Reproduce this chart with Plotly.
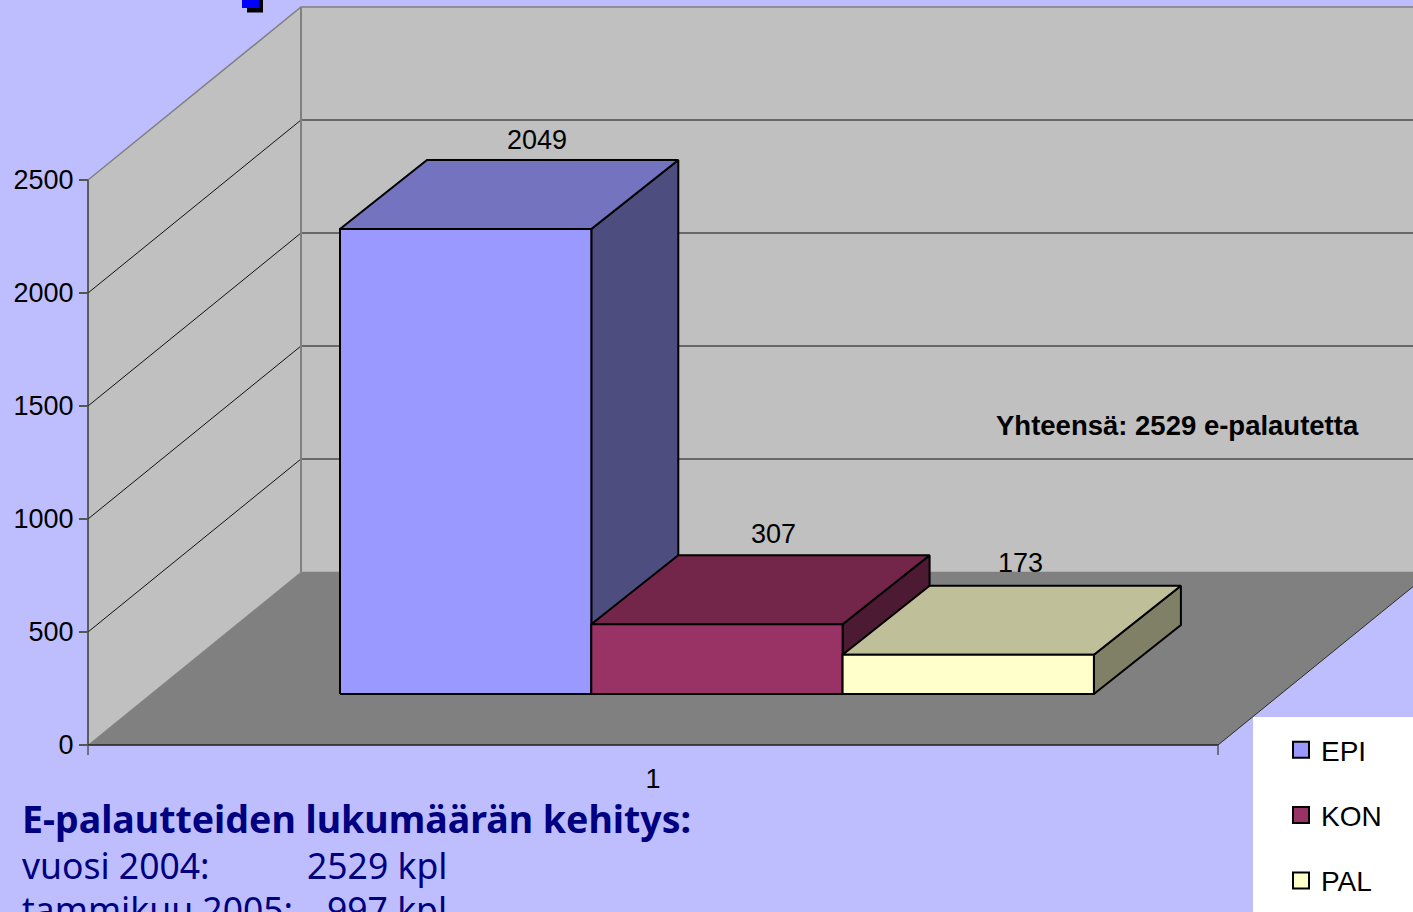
import plotly.graph_objects as go

# Data
series = ["EPI", "KON", "PAL"]
values = [2049, 307, 173]
category = "1"
y_ticks = [0, 500, 1000, 1500, 2000, 2500]
front_colors = ["#9999FF", "#993366", "#FFFFCC"]
top_colors = ["#7373BF", "#732649", "#BFBF99"]
side_colors = ["#4D4D80", "#4D1A33", "#808066"]
label_x = [537, 773, 1020]
label_shift = [20, 21, 23]

# Oblique projection, in the axes' own units (x axis = screen px, y axis = chart value)
W, H = 1413, 912
PX = 0.226                # px per value unit
BAR_GAIN = 1.004
Y0 = 745                  # px of value 0 on the front plane
X0, X1 = 88, 1218
DX, DY = 213, 173         # wall depth
BX, BDX, BDY = 340, 87, 69
BW = 251.3
BASE = (Y0 - 694) / PX    # bar base height above front edge
y_min, y_max = (Y0 - H) / PX, Y0 / PX
u = lambda px: px / PX

BG = "#BEBEFF"
WALL = "#C0C0C0"
FLOOR = "#808080"
GRID = "#111111"
SANS = "Liberation Sans, Arial, sans-serif"
TITLE = "Noto Sans, sans-serif"

fig = go.Figure()


def poly(xs, ys, fill, line=None, width=0, name=None):
    fig.add_trace(go.Scatter(
        x=list(xs) + [xs[0]], y=list(ys) + [ys[0]], mode="lines", fill="toself",
        fillcolor=fill, line=dict(color=line or fill, width=width or 0.5),
        hoverinfo="skip", showlegend=False, name=name))


def seg(xs, ys, color, width):
    fig.add_trace(go.Scatter(x=xs, y=ys, mode="lines", line=dict(color=color, width=width),
                             hoverinfo="skip", showlegend=False))


top = y_ticks[-1]
# walls and floor
poly([X0 + DX, W + 40, W + 40, X0 + DX], [u(DY), u(DY), top + u(DY), top + u(DY)], WALL)
poly([X0, X0 + DX, X0 + DX, X0], [0, u(DY), top + u(DY), top], WALL)
poly([X0, X1, X1 + DX, X0 + DX], [0, 0, u(DY), u(DY)], FLOOR)

# gridlines
for t in y_ticks[1:-1]:
    seg([X0, X0 + DX], [t, t + u(DY)], GRID, 1)
    seg([X0 + DX, W + 40], [t + u(DY), t + u(DY)], GRID, 1)
seg([X0, X0 + DX, W + 40], [top, top + u(DY), top + u(DY)], "#808080", 1.5)
seg([X0 + DX, X0 + DX], [u(DY), top + u(DY)], "#808080", 2)
seg([X0, X0], [0, top], "#3A3A3A", 1.5)
seg([X0, X1], [0, 0], "#222222", 1.5)
seg([X1, X1 + DX], [0, u(DY)], "#2E2E2E", 1)
for tx in (X0, X1):
    seg([tx, tx], [0, u(-10)], "#555555", 1.5)

# bars
for i, v in enumerate(values):
    x0, x1 = BX + i * BW, BX + (i + 1) * BW
    b, t = BASE, BASE + v * BAR_GAIN
    dx, dy = BDX, u(BDY)
    poly([x1, x1 + dx, x1 + dx, x1], [b, b + dy, t + dy, t], side_colors[i], "black", 2)
    poly([x0, x1, x1 + dx, x0 + dx], [t, t, t + dy, t + dy], top_colors[i], "black", 2)
    poly([x0, x1, x1, x0], [b, b, t, t], front_colors[i], "black", 2, name=series[i])
    fig.add_annotation(x=label_x[i], y=t + dy + u(label_shift[i]), text=str(v), showarrow=False,
                       font=dict(family=SANS, size=27, color="black"))

# legend entries
for i, s in enumerate(series):
    fig.add_trace(go.Scatter(x=[None], y=[None], mode="markers", name=s, legendgroup=s,
                             marker=dict(symbol="square", size=16, color=front_colors[i],
                                         line=dict(color="black", width=2))))

fig.add_annotation(x=1177, y=(Y0 - 425) / PX, text="<b>Yhteensä: 2529 e-palautetta</b>", showarrow=False,
                   font=dict(family=SANS, size=27.5, color="black"))

for tx, py, txt, size in [
    (23, 818.5, "<b>E-palautteiden lukumäärän kehitys:</b>", 37.5),
    (23, 865, "vuosi 2004:", 35.5),
    (308, 865, "2529 kpl", 35.5),
    (23, 909, "tammikuu 2005:", 35.5),
    (328, 909, "997 kpl", 35.5),
]:
    fig.add_annotation(xref="paper", yref="paper", x=tx / W, y=1 - py / H, xanchor="left", yanchor="middle",
                       xshift=-3, text=txt, showarrow=False, font=dict(family=TITLE, size=size, color="#000080"))

shapes = [
    dict(type="rect", xref="paper", yref="paper", x0=1253 / W, x1=1, y0=0, y1=1 - 717 / H,
         fillcolor="white", line_width=0, layer="above"),
    dict(type="rect", xref="paper", yref="paper", x0=247 / W, x1=263 / W, y0=1 - 12.5 / H, y1=1,
         fillcolor="black", line_width=0, layer="above"),
    dict(type="rect", xref="paper", yref="paper", x0=242 / W, x1=259 / W, y0=1 - 8 / H, y1=1,
         fillcolor="#0000FF", line_width=0, layer="above"),
]

fig.update_layout(
    width=W, height=H, margin=dict(l=0, r=0, t=0, b=0), paper_bgcolor=BG, plot_bgcolor=BG,
    shapes=shapes, showlegend=True,
    legend=dict(x=1281 / W, y=1 - 725 / H, xanchor="left", yanchor="top", bgcolor="rgba(0,0,0,0)",
                font=dict(family=SANS, size=28, color="black"), tracegroupgap=26, borderwidth=0),
    xaxis=dict(range=[0, W], showgrid=False, zeroline=False, showline=False, tickmode="array",
               tickvals=[653], ticktext=[category], ticks="", anchor="free",
               position=(H - Y0) / H, ticklabelstandoff=15,
               tickfont=dict(family=SANS, size=27, color="black")),
    yaxis=dict(range=[y_min, y_max], showgrid=False, zeroline=False, showline=False, tickmode="array",
               tickvals=y_ticks, ticktext=[str(t) for t in y_ticks], ticks="outside", ticklen=9,
               tickwidth=1.5, tickcolor="#555555", anchor="free", position=X0 / W,
               tickfont=dict(family=SANS, size=27, color="black")),
)

fig.write_html("out.html", config=dict(displayModeBar=False),
               post_script="document.body.style.margin='0';document.body.style.overflow='hidden';")
